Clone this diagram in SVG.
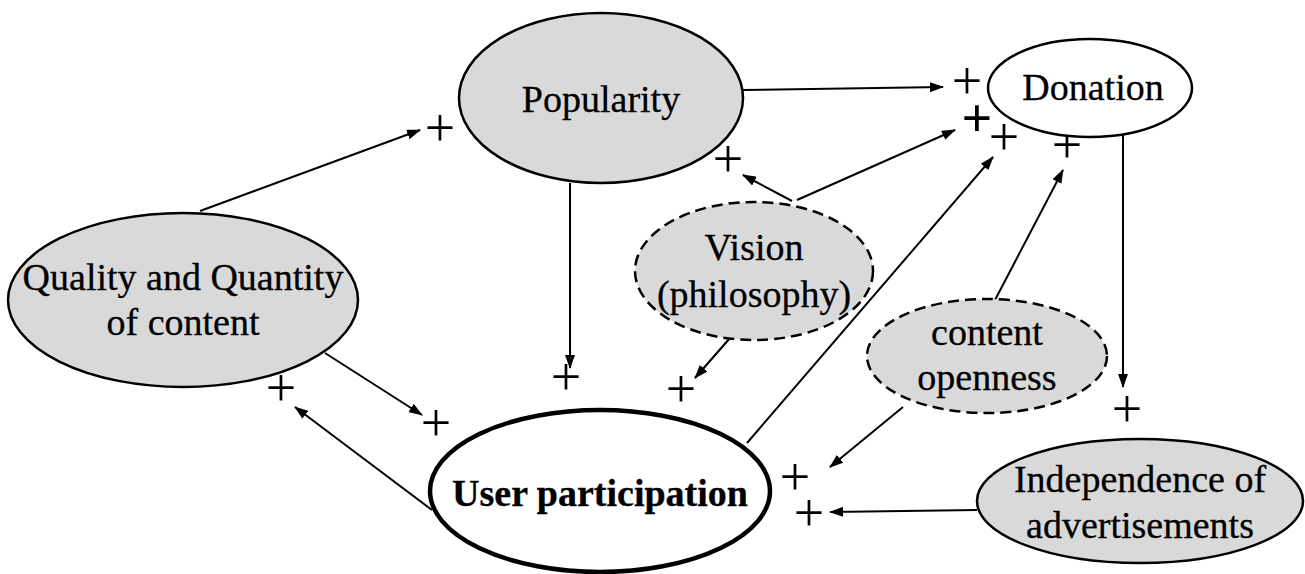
<svg xmlns="http://www.w3.org/2000/svg" width="1305" height="574" viewBox="0 0 1305 574">
  <defs>
    <marker id="ah" viewBox="0 0 14 10" refX="13" refY="5" markerWidth="14" markerHeight="10" markerUnits="userSpaceOnUse" orient="auto">
      <path d="M0,0 L14,5 L0,10 z" fill="#000"/>
    </marker>
    <style>
      .lbl { font-family: "Liberation Serif", "Times New Roman", serif; font-size: 38px; fill: #000; stroke: #000; stroke-width: 0.3; text-anchor: middle; }
      .bold { font-weight: bold; }
      .plus { font-family: "Liberation Serif", "Times New Roman", serif; font-size: 54px; fill: #000; text-anchor: middle; }
      .grey { fill: #d9d9d9; stroke: #000; stroke-width: 2.5; }
      .white { fill: #fff; stroke: #000; stroke-width: 2.5; }
      .dash { fill: #d9d9d9; stroke: #000; stroke-width: 2.5; stroke-dasharray: 11 6; }
      .edge { fill: none; stroke: #000; stroke-width: 2; marker-end: url(#ah); }
    </style>
  </defs>
  <rect width="1305" height="574" fill="#fff"/>

  <!-- connectors -->
  <g id="connectors">
    <line class="edge" x1="200" y1="211" x2="420" y2="130"/>
    <line class="edge" x1="743" y1="90" x2="943" y2="87"/>
    <line class="edge" x1="570" y1="183" x2="570" y2="368"/>
    <line class="edge" x1="792" y1="201" x2="743" y2="175"/>
    <line class="edge" x1="797" y1="200" x2="955" y2="130"/>
    <line class="edge" x1="747" y1="443" x2="993" y2="157"/>
    <line class="edge" x1="995" y1="300" x2="1063" y2="170"/>
    <line class="edge" x1="730" y1="338" x2="695" y2="378"/>
    <line class="edge" x1="325" y1="353" x2="422" y2="415"/>
    <line class="edge" x1="432" y1="510" x2="295" y2="407"/>
    <line class="edge" x1="903" y1="407" x2="830" y2="467"/>
    <line class="edge" x1="977" y1="510" x2="830" y2="512"/>
    <line class="edge" x1="1123" y1="135" x2="1123" y2="387"/>
  </g>

  <!-- polarity signs -->
  <g id="signs">
    <text class="plus" x="440" y="146">+</text>
    <text class="plus" x="967" y="99">+</text>
    <text class="plus" x="977" y="136" font-weight="bold">+</text>
    <text class="plus" x="1004" y="155">+</text>
    <text class="plus" x="1067" y="163">+</text>
    <text class="plus" x="728" y="177">+</text>
    <text class="plus" x="566" y="395">+</text>
    <text class="plus" x="681" y="407">+</text>
    <text class="plus" x="436" y="441">+</text>
    <text class="plus" x="281" y="406">+</text>
    <text class="plus" x="795" y="495">+</text>
    <text class="plus" x="809" y="531">+</text>
    <text class="plus" x="1127" y="427">+</text>
  </g>

  <g id="popularity">
    <ellipse class="grey" cx="601" cy="98" rx="142" ry="85"/>
    <text class="lbl" x="601" y="112">Popularity</text>
  </g>

  <g id="donation">
    <ellipse class="white" cx="1090" cy="88" rx="102" ry="49"/>
    <text class="lbl" x="1093" y="100">Donation</text>
  </g>

  <g id="quality">
    <ellipse class="grey" cx="183" cy="300" rx="175" ry="87"/>
    <text class="lbl" x="183" y="290">Quality and Quantity</text>
    <text class="lbl" x="183" y="335">of content</text>
  </g>

  <g id="vision">
    <ellipse class="dash" cx="754" cy="271" rx="119" ry="69"/>
    <text class="lbl" x="754" y="260">Vision</text>
    <text class="lbl" x="754" y="307">(philosophy)</text>
  </g>

  <g id="openness">
    <ellipse class="dash" cx="987" cy="356" rx="120" ry="57"/>
    <text class="lbl" x="987" y="345">content</text>
    <text class="lbl" x="987" y="390">openness</text>
  </g>

  <g id="user-participation">
    <ellipse cx="600" cy="491" rx="170" ry="81" fill="#fff" stroke="#000" stroke-width="4.5"/>
    <text class="lbl bold" x="600" y="506">User participation</text>
  </g>

  <g id="independence">
    <ellipse class="grey" cx="1140" cy="501" rx="163" ry="62"/>
    <text class="lbl" x="1140" y="492">Independence of</text>
    <text class="lbl" x="1140" y="538">advertisements</text>
  </g>
</svg>
